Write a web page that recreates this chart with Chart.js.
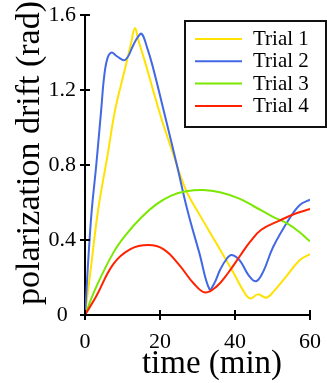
<!DOCTYPE html>
<html>
<head>
<meta charset="utf-8">
<script src="https://cdn.jsdelivr.net/npm/chart.js@4.4.1/dist/chart.umd.min.js"></script>
<style>
    html, body { margin: 0; padding: 0; background: #fff; }
</style>
</head>
<body>
<canvas id="myChart" width="327" height="383"></canvas>
<script>
//-----------Данные графика-----------
var seriesNames = ['Trial 1', 'Trial 2', 'Trial 3', 'Trial 4'];
var seriesColors = ['rgb(255,226,0)', 'rgb(66,104,228)', 'rgb(122,232,0)', 'rgb(255,34,0)'];

var trial1Time  = [0, 1.5, 3.5, 6, 8, 10.5, 12.3, 13.3, 14.3, 16, 18, 20.5, 23, 26.9, 30.7, 35.1, 39.6, 42.2, 44, 46.1, 48.4, 50.5, 52.9, 57.3, 60];
var trial1Drift = [0, 0.24, 0.56, 0.85, 1.09, 1.30, 1.45, 1.53, 1.46, 1.35, 1.21, 1.04, 0.89, 0.667, 0.53, 0.38, 0.225, 0.13, 0.088, 0.11, 0.092, 0.13, 0.187, 0.293, 0.325];

var trial2Time  = [0, 1.6, 3, 4.3, 5.1, 6, 7.1, 8.5, 10.7, 12.9, 14, 15.1, 16.5, 18, 21.6, 24.5, 27.3, 30.5, 33.2, 34.5, 36, 37.8, 39.1, 41.3, 43.6, 45.6, 47.5, 50.2, 54.7, 57.3, 60];
var trial2Drift = [0, 0.51, 0.8, 1.09, 1.27, 1.37, 1.40, 1.38, 1.36, 1.44, 1.48, 1.50, 1.43, 1.33, 1.04, 0.80, 0.56, 0.33, 0.137, 0.17, 0.24, 0.30, 0.32, 0.29, 0.213, 0.18, 0.23, 0.364, 0.52, 0.587, 0.615];

var trial3Time  = [0, 3, 7.5, 11, 15, 19, 23, 27, 31.5, 36, 41, 45, 50, 54, 57, 60];
var trial3Drift = [0, 0.15, 0.33, 0.43, 0.52, 0.59, 0.637, 0.66, 0.667, 0.655, 0.622, 0.58, 0.525, 0.487, 0.445, 0.393];

var trial4Time  = [0, 3, 7.5, 12, 16.9, 21, 25, 29, 32, 35, 38, 41.5, 44, 47, 52, 56, 60];
var trial4Drift = [0, 0.1, 0.27, 0.35, 0.373, 0.35, 0.27, 0.168, 0.12, 0.15, 0.22, 0.32, 0.39, 0.455, 0.505, 0.54, 0.565];

var xTicks = [0, 20, 40, 60];
var yTicks = [0, 0.4, 0.8, 1.2, 1.6];
var yTickLabels = ['0', '0.4', '0.8', '1.2', '1.6'];
var xTitle = 'time (min)';
var yTitle = 'polarization drift (rad)';

var serifFont = "'Liberation Serif', 'Times New Roman', serif";

//Собираем точки {x,y} из массивов
function makePoints(times, values) {
    var pts = [];
    for (var i = 0; i < times.length; i++) {
        pts.push({x: times[i], y: values[i]});
    }
    return pts;
}

//Засечки, подписи осей и легенда в рамке
var decorPlugin = {
    id: 'decor',
    afterDraw: function (chart) {
        var ctx = chart.ctx;
        var area = chart.chartArea;
        var xs = chart.scales.x;
        var ys = chart.scales.y;
        ctx.save();

        //засечки пересекают ось
        ctx.strokeStyle = '#000';
        ctx.lineWidth = 2;
        ctx.beginPath();
        xs.ticks.forEach(function (t) {
            var px = Math.round(xs.getPixelForValue(t.value));
            ctx.moveTo(px, area.bottom - 5);
            ctx.lineTo(px, area.bottom + 5);
        });
        ys.ticks.forEach(function (t) {
            var py = Math.round(ys.getPixelForValue(t.value));
            ctx.moveTo(area.left - 5, py);
            ctx.lineTo(area.left + 5, py);
        });
        ctx.stroke();

        //подписи осей
        ctx.fillStyle = '#000';
        ctx.textAlign = 'center';
        ctx.textBaseline = 'alphabetic';
        ctx.font = '33px ' + serifFont;
        ctx.fillText(xTitle, area.left + 127, 373);

        ctx.save();
        ctx.font = '34px ' + serifFont;
        ctx.translate(39, 153);
        ctx.rotate(-Math.PI / 2);
        ctx.fillText(yTitle, 0, 0);
        ctx.restore();

        //легенда
        var bx = 185, by = 21, bw = 141, bh = 106;
        ctx.fillStyle = '#fff';
        ctx.fillRect(bx, by, bw, bh);
        ctx.lineWidth = 2;
        ctx.strokeStyle = '#111';
        ctx.strokeRect(bx, by, bw, bh);
        ctx.font = '21px ' + serifFont;
        ctx.textAlign = 'left';
        chart.data.datasets.forEach(function (ds, i) {
            var rowY = 39 + i * 22.3;
            ctx.strokeStyle = ds.borderColor;
            ctx.lineWidth = 2;
            ctx.beginPath();
            ctx.moveTo(195, rowY);
            ctx.lineTo(242, rowY);
            ctx.stroke();
            ctx.fillStyle = '#000';
            ctx.fillText(ds.label, 253, rowY + 6);
        });
        ctx.restore();
    }
};

function BuildChart() {
    var ctx = document.getElementById('myChart').getContext('2d');
    var allTimes = [trial1Time, trial2Time, trial3Time, trial4Time];
    var allDrift = [trial1Drift, trial2Drift, trial3Drift, trial4Drift];
    var datasets = [];
    for (var i = 0; i < seriesNames.length; i++) {
        datasets.push({
            label: seriesNames[i],
            data: makePoints(allTimes[i], allDrift[i]),
            borderColor: seriesColors[i],
            backgroundColor: seriesColors[i],
            borderWidth: 2,
            pointRadius: 0,
            fill: false,
            tension: 0.4,
            order: seriesNames.length - i
        });
    }

    var myChart = new Chart(ctx, {
        type: 'line',
        data: {datasets: datasets},
        options: {
            responsive: false,
            devicePixelRatio: 1,
            animation: false,
            layout: {padding: {top: 15, right: 17, left: 0, bottom: 0}},
            plugins: {
                legend: {display: false},
                tooltip: {enabled: false}
            },
            scales: {
                x: {
                    type: 'linear',
                    min: 0,
                    max: 60,
                    afterBuildTicks: function (scale) {
                        scale.ticks = xTicks.map(function (v) { return {value: v}; });
                    },
                    afterFit: function (scale) {
                        scale.height = 68;
                        scale.paddingLeft = 0;
                        scale.paddingRight = 0;
                    },
                    grid: {display: true, drawOnChartArea: false, drawTicks: false},
                    border: {display: true, color: '#000', width: 2},
                    ticks: {
                        autoSkip: false,
                        maxRotation: 0,
                        padding: 14,
                        color: '#000',
                        font: {family: serifFont, size: 22}
                    }
                },
                y: {
                    type: 'linear',
                    min: 0,
                    max: 1.6,
                    afterBuildTicks: function (scale) {
                        scale.ticks = yTicks.map(function (v) { return {value: v}; });
                    },
                    afterFit: function (scale) {
                        scale.width = 85;
                        scale.paddingTop = 0;
                        scale.paddingBottom = 0;
                    },
                    grid: {display: true, drawOnChartArea: false, drawTicks: false},
                    border: {display: true, color: '#000', width: 2},
                    ticks: {
                        crossAlign: 'center',
                        padding: 9,
                        color: '#000',
                        font: {family: serifFont, size: 22},
                        callback: function (value) {
                            var idx = yTicks.indexOf(value);
                            return idx >= 0 ? yTickLabels[idx] : '';
                        }
                    }
                }
            }
        },
        plugins: [decorPlugin]
    });
    return myChart;
}

BuildChart();
</script>
</body>
</html>
